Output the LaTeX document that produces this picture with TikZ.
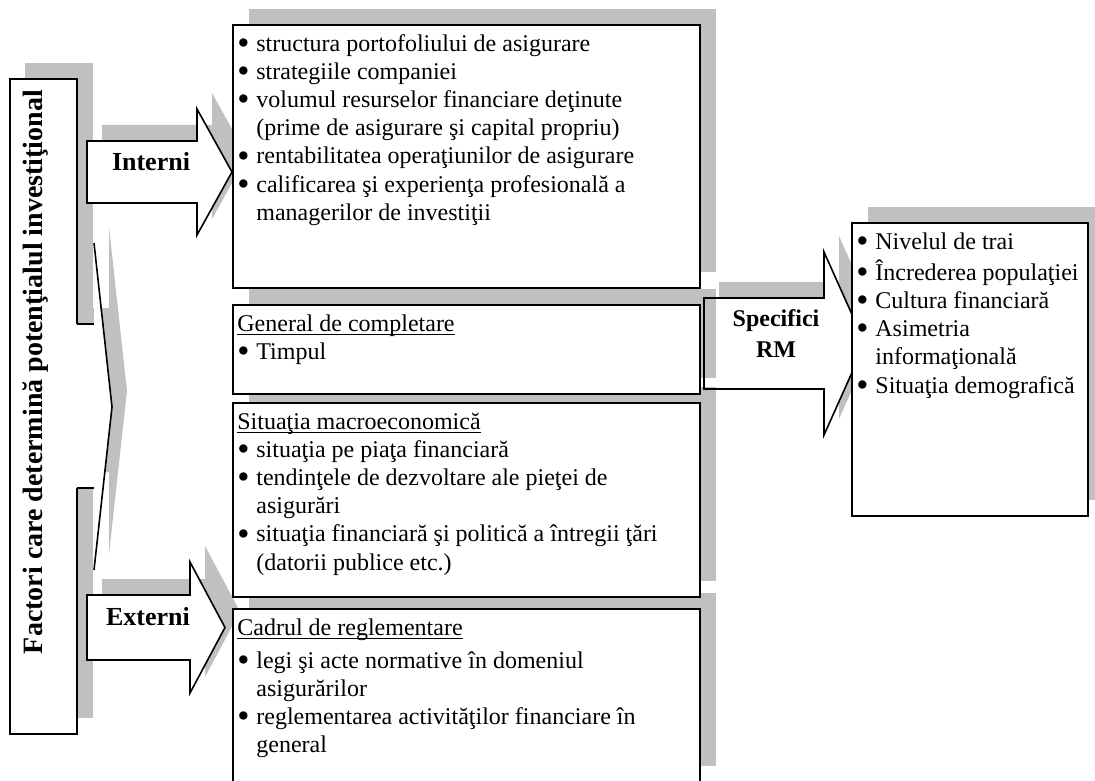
\documentclass[tikz,border=0pt]{standalone}
\usepackage{fontspec}
\setmainfont{Liberation Serif}
\usepackage{graphicx}
\usepackage{tikz}
\usetikzlibrary{fit, shadows}
\definecolor{shadowgray}{RGB}{192, 192, 192}
\newcommand{\itemdot}{\makebox[9.5pt][l]{\smash{\raisebox{-1.6pt}{\scalebox{1.45}{\textbullet}}}}}
\newcommand{\itemgap}{\hspace*{9.5pt}}
\newcommand{\hdr}[1]{\underline{\smash{#1}}}
\tikzstyle{panel} = [rectangle, draw=black, line width=0.8pt, fill=white, inner sep=0pt, outer sep=0pt, general shadow={shadow xshift=7.75pt, shadow yshift=8pt, fill=shadowgray}]
\tikzstyle{blockarrow} = [draw=black, line width=0.8pt, fill=white, line join=miter, general shadow={shadow xshift=7.5pt, shadow yshift=8pt, fill=shadowgray}]
\tikzstyle{bracefill} = [fill=white, general shadow={shadow xshift=7.5pt, shadow yshift=8pt, fill=shadowgray}]
\tikzstyle{edge} = [line width=0.8pt]
\tikzstyle{itemtext} = [anchor=north west, inner xsep=2pt, inner ysep=3pt, align=left, font=\fontsize{12}{14.1}\selectfont]
\tikzstyle{arrowlabel} = [inner sep=0pt, font=\fontsize{13}{15}\selectfont\bfseries]
\tikzstyle{titletext} = [inner sep=0pt, font=\fontsize{14}{16}\selectfont\bfseries]

\begin{document}
\begin{tikzpicture}[x=0.5pt, y=-0.5pt]
    \useasboundingbox (0,0) rectangle (1095,780);

    % Factori box with its brace
    \node[panel, general shadow={shadow xshift=7.5pt, shadow yshift=8pt, fill=shadowgray}, fit={(10,79) (77,734)}] (factori) {};
    \node[titletext, rotate=90, anchor=base] (titlu) at (42,372) {Factori care determină potenţialul investiţional};
    \path[bracefill] (76,324) -- (94,324) -- (94,243) -- (112,407) -- (94,570) -- (94,488) -- (76,488) -- cycle;
    \draw[edge] (76.6,324) -- (94,324);
    \draw[edge] (76.6,488) -- (94,488);
    \draw[edge] (94,243) -- (112,407) -- (94,570);

    % Interni and Externi arrows
    \draw[blockarrow] (87,141) -- (197,141) -- (197,109) -- (232,172) -- (197,235) -- (197,203) -- (87,203) -- cycle;
    \node[arrowlabel, anchor=base] (interni) at (151,171) {Interni};
    \draw[blockarrow] (87,595) -- (190,595) -- (190,562) -- (225,627.5) -- (190,693) -- (190,660) -- (87,660) -- cycle;
    \node[arrowlabel, anchor=base] (externi) at (148,625) {Externi};

    % Specifici RM arrow
    \draw[blockarrow] (704,298) -- (824,298) -- (824,252) -- (865,343.5) -- (824,435) -- (824,389) -- (704,389) -- cycle;

    % Factor boxes, bottom up so each one covers the next shadow
    \node[panel, fit={(233,609) (700,782)}] (cadru) {};
    \node[panel, fit={(233,403) (700,597)}] (macro) {};
    \node[panel, fit={(233,305) (700,394)}] (general) {};
    \node[panel, fit={(233,25) (700,288)}] (interne) {};
    \draw[edge] (716,298) -- (704,298) -- (704,389) -- (716,389);
    \node[panel, fit={(852,223) (1088,516)}] (specifice) {};

    % Texts
    \node[itemtext] (tInterne) at (interne.north west) {\strut\itemdot structura portofoliului de asigurare\\
        \itemdot strategiile companiei\\
        \itemdot volumul resurselor financiare deţinute\\
        \itemgap (prime de asigurare şi capital propriu)\\
        \itemdot rentabilitatea operaţiunilor de asigurare\\
        \itemdot calificarea şi experienţa profesională a\\
        \itemgap managerilor de investiţii};
    \node[itemtext] (tGeneral) at (general.north west) {\strut\hdr{General de completare}\\
        \itemdot Timpul};
    \node[itemtext] (tMacro) at (macro.north west) {\strut\hdr{Situaţia macroeconomică}\\
        \itemdot situaţia pe piaţa financiară\\
        \itemdot tendinţele de dezvoltare ale pieţei de\\
        \itemgap asigurări\\
        \itemdot situaţia financiară şi politică a întregii ţări\\
        \itemgap (datorii publice etc.)};
    \node[itemtext] (tCadru) at (cadru.north west) {\strut\hdr{Cadrul de reglementare}\\[2.5pt]
        \itemdot legi şi acte normative în domeniul\\
        \itemgap asigurărilor\\
        \itemdot reglementarea activităţilor financiare în\\
        \itemgap general};
    \node[itemtext] (tSpecifice) at (specifice.north west) {\strut\itemdot Nivelul de trai\\
        \itemdot Încrederea populaţiei\\
        \itemdot Cultura financiară\\
        \itemdot Asimetria\\
        \itemgap informaţională\\
        \itemdot Situaţia demografică};
    \node[arrowlabel, font=\fontsize{12}{15.5}\selectfont\bfseries, align=center] (specifici) at (776,334) {Specifici\\RM};

\end{tikzpicture}
\end{document}
